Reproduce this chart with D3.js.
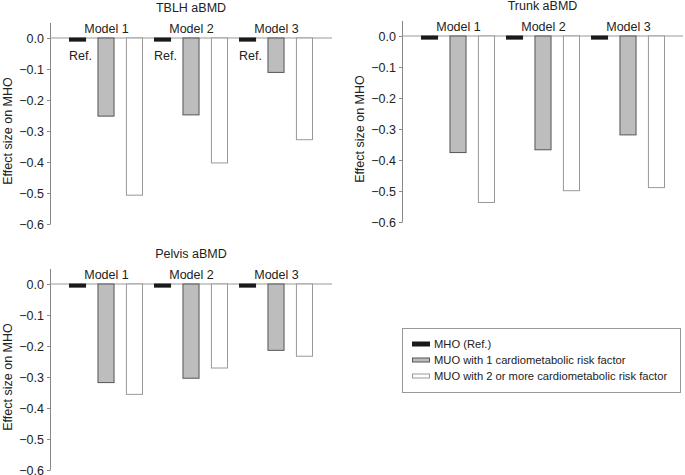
<!DOCTYPE html>
<html><head><meta charset="utf-8">
<script src="https://cdn.jsdelivr.net/npm/d3@7"></script>
<style>body{margin:0;background:#fff}text{font-family:"Liberation Sans",Arial,sans-serif;fill:#222}</style>
</head><body><svg id="c" width="685" height="475"></svg>
<script>
const models = ["Model 1","Model 2","Model 3"];
const series = ["MHO (Ref.)","MUO with 1 cardiometabolic risk factor","MUO with 2 or more cardiometabolic risk factor"];
const yTicks = [0.0,-0.1,-0.2,-0.3,-0.4,-0.5,-0.6];
const panelTitles = ["TBLH aBMD","Trunk aBMD","Pelvis aBMD"];
const tblh   = [[-0.01,-0.252,-0.507],[-0.01,-0.248,-0.403],[-0.01,-0.111,-0.328]];
const trunk  = [[-0.01,-0.376,-0.537],[-0.01,-0.367,-0.499],[-0.01,-0.319,-0.489]];
const pelvis = [[-0.01,-0.318,-0.356],[-0.01,-0.304,-0.271],[-0.01,-0.214,-0.233]];
const panelData = [tblh, trunk, pelvis];
const refLabel = "Ref.";
const yLabel = "Effect size on MHO";

const fills = ["#1a1a1a","#bdbdbd","#ffffff"];
const strokes = ["#1a1a1a","#555","#999"];
const layout = [
  {ax:50, y0:38, y6:224, right:332, ref:true},
  {ax:402, y0:36, y6:222, right:683, ref:false},
  {ax:50, y0:284, y6:470, right:332, ref:false}
];
const svg = d3.select("#c");
const fmt = d => d === 0 ? "0.0" : d3.format(".1f")(d).replace("-", "\u2212");

layout.forEach((L, pi) => {
  const g = svg.append("g");
  const y = d3.scaleLinear().domain([0,-0.6]).range([L.y0, L.y6]);
  const x0 = d3.scaleBand().domain(models).range([L.ax+13, L.ax+13+255]);
  const x1 = d3.scaleBand().domain(series).range([6, 80]).paddingInner(0.4);
  const axis = g.append("g").attr("transform",`translate(${L.ax},0)`)
    .call(d3.axisLeft(y).tickValues(yTicks).tickFormat(fmt).tickSize(3).tickPadding(3));
  axis.select(".domain").remove();
  axis.selectAll("line").attr("stroke","#888");
  axis.selectAll("text").style("font-size","12.5px").attr("fill","#222");
  g.append("line").attr("x1",L.ax+0.5).attr("x2",L.ax+0.5).attr("y1",L.y0-15).attr("y2",L.y6+0.5).attr("stroke","#888");
  g.append("line").attr("x1",L.ax).attr("x2",L.right).attr("y1",y(0)).attr("y2",y(0)).attr("stroke","#999");
  const data = panelData[pi];
  models.forEach((m, mi) => {
    series.forEach((s, si) => {
      const v = data[mi][si];
      g.append("rect")
        .attr("x", x0(m)+x1(s)+0.5).attr("y", y(0))
        .attr("width", x1.bandwidth()-1).attr("height", y(v)-y(0))
        .attr("fill", fills[si]).attr("stroke", strokes[si]).attr("stroke-width",1);
    });
    g.append("text").attr("x", x0(m)+x0.bandwidth()/2+1).attr("y", L.y0-5)
      .attr("text-anchor","middle").style("font-size","12.5px").text(m);
    if (L.ref) {
      g.append("text").attr("x", x0(m)+x1(series[0])).attr("y", L.y0+22)
        .style("font-size","12.5px").text(refLabel);
    }
  });
  g.append("text").attr("x",(L.ax+L.right)/2).attr("y",L.y0-26)
    .attr("text-anchor","middle").style("font-size","12.5px").text(panelTitles[pi]);
  g.append("text").attr("transform",`translate(${L.ax-38},${(L.y0+L.y6)/2}) rotate(-90)`)
    .attr("text-anchor","middle").style("font-size","12.5px").text(yLabel);
});

const lg = svg.append("g");
lg.append("rect").attr("x",402.5).attr("y",328.5).attr("width",278).attr("height",64)
  .attr("fill","none").attr("stroke","#999");
series.forEach((s, i) => {
  const yy = 344 + i*16;
  lg.append("rect").attr("x",412.5).attr("y",yy-2).attr("width",17).attr("height",4)
    .attr("fill",fills[i]).attr("stroke",strokes[i]);
  lg.append("text").attr("x",434).attr("y",yy+4).style("font-size","11.2px").text(s);
});
</script></body></html>
